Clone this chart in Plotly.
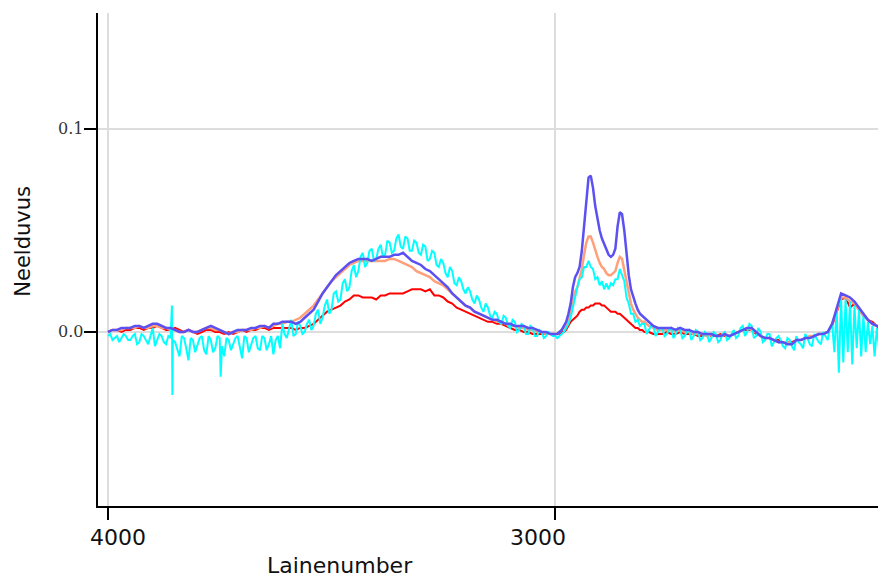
import plotly.graph_objects as go

# Wavenumber grid (cm-1): coarse outside C-H region, finer in C-H region
wn_a = list(range(4000, 3000, -10))   # 4000..3010
wn_b = list(range(3000, 2800, -5))    # 3000..2805
wn_c = list(range(2800, 2255, -10))   # 2800..2260
wn = wn_a + wn_b + wn_c

red_a = [
    0.000, 0.001, 0.001, 0.000, 0.001, 0.001, 0.002, 0.002, 0.001, 0.002,
    0.002, 0.003, 0.002, 0.001, 0.001, 0.002, 0.001, 0.000, 0.001, 0.000,
    -0.001, 0.000, 0.001, 0.001, 0.000, 0.000, -0.001, 0.000, -0.001, 0.000,
    0.001, 0.000, 0.001, 0.001, 0.002, 0.002, 0.001, 0.002, 0.002, 0.002,
    0.002, 0.002, 0.001, 0.002, 0.002, 0.003, 0.004, 0.006, 0.008, 0.010,
    0.011, 0.012, 0.013, 0.015, 0.016, 0.018, 0.018, 0.017, 0.017, 0.017,
    0.016, 0.018, 0.018, 0.019, 0.019, 0.019, 0.019, 0.020, 0.021, 0.021,
    0.021, 0.020, 0.021, 0.018, 0.018, 0.017, 0.015, 0.014, 0.012, 0.011,
    0.010, 0.009, 0.008, 0.007, 0.006, 0.005, 0.005, 0.004, 0.004, 0.003,
    0.002, 0.001, 0.001, 0.000, 0.000, -0.001, -0.001, -0.001, -0.001, -0.001,
]
red_b = [
    -0.001, -0.001, -0.001, 0.000, 0.000, 0.001, 0.003, 0.005, 0.006, 0.007,
    0.008, 0.010, 0.011, 0.011, 0.012, 0.012, 0.013, 0.013, 0.014, 0.014,
    0.014, 0.013, 0.013, 0.012, 0.011, 0.010, 0.010, 0.010, 0.009, 0.009,
    0.008, 0.007, 0.006, 0.005, 0.004, 0.003, 0.002, 0.002, 0.001, 0.001,
]
red_c = [
    0.000, 0.000, -0.001, -0.001, -0.001, 0.000, -0.001, -0.001, 0.000, -0.001,
    -0.001, -0.001, -0.002, -0.002, -0.001, -0.002, -0.002, -0.001, -0.002, -0.002,
    -0.001, 0.000, 0.001, 0.001, 0.001, -0.001, -0.002, -0.003, -0.003, -0.004,
    -0.004, -0.005, -0.005, -0.005, -0.004, -0.004, -0.003, -0.003, -0.002, -0.001,
    -0.001, 0.000, 0.003, 0.010, 0.016, 0.017, 0.012, 0.014, 0.011, 0.008,
    0.006, 0.005, 0.003, 0.002, 0.000,
]

salmon_a = [
    0.000, 0.001, 0.001, 0.001, 0.002, 0.002, 0.002, 0.003, 0.002, 0.002,
    0.003, 0.003, 0.002, 0.002, 0.001, 0.001, 0.000, 0.000, 0.001, 0.000,
    0.000, 0.001, 0.002, 0.002, 0.001, 0.001, 0.000, -0.001, 0.000, 0.000,
    0.001, 0.001, 0.001, 0.002, 0.002, 0.003, 0.002, 0.003, 0.004, 0.004,
    0.005, 0.005, 0.006, 0.007, 0.009, 0.011, 0.013, 0.016, 0.019, 0.022,
    0.025, 0.027, 0.029, 0.031, 0.033, 0.034, 0.035, 0.035, 0.035, 0.035,
    0.035, 0.035, 0.035, 0.036, 0.036, 0.035, 0.034, 0.033, 0.032, 0.030,
    0.029, 0.028, 0.027, 0.025, 0.024, 0.023, 0.021, 0.019, 0.017, 0.015,
    0.013, 0.012, 0.010, 0.009, 0.008, 0.007, 0.006, 0.005, 0.005, 0.004,
    0.003, 0.003, 0.002, 0.002, 0.001, 0.001, 0.000, 0.000, -0.001, -0.001,
]
salmon_b = [
    -0.001, -0.001, 0.000, 0.001, 0.002, 0.003, 0.006, 0.010, 0.016, 0.020,
    0.022, 0.026, 0.031, 0.038, 0.044, 0.047, 0.047, 0.044, 0.040, 0.037,
    0.034, 0.032, 0.031, 0.029, 0.028, 0.028, 0.029, 0.030, 0.034, 0.037,
    0.036, 0.030, 0.024, 0.018, 0.014, 0.011, 0.009, 0.007, 0.006, 0.005,
]
salmon_c = [
    0.005, 0.003, 0.002, 0.001, 0.001, 0.001, 0.001, 0.000, 0.001, 0.000,
    0.000, -0.001, -0.001, -0.001, -0.002, -0.001, -0.002, -0.002, -0.001, -0.002,
    -0.001, 0.000, 0.001, 0.002, 0.001, 0.000, -0.002, -0.003, -0.003, -0.004,
    -0.005, -0.005, -0.005, -0.006, -0.004, -0.004, -0.003, -0.002, -0.002, -0.001,
    -0.001, 0.000, 0.004, 0.011, 0.017, 0.017, 0.015, 0.014, 0.011, 0.008,
    0.006, 0.004, 0.003, 0.001, 0.000,
]

cyan_a = [
    -0.002, -0.004, -0.002, -0.003, -0.002, -0.004, -0.001, -0.005, -0.002, -0.006,
    0.002, -0.004, -0.002, -0.006, -0.003, -0.005, -0.012, -0.003, -0.014, -0.004,
    -0.006, -0.002, -0.011, -0.004, -0.008, -0.003, -0.012, -0.004, -0.006, -0.002,
    -0.013, -0.003, -0.007, -0.002, -0.009, -0.003, -0.006, -0.011, -0.002, 0.004,
    -0.003, 0.006, -0.001, 0.003, 0.000, 0.006, 0.003, 0.011, 0.007, 0.016,
    0.011, 0.020, 0.016, 0.026, 0.022, 0.033, 0.030, 0.039, 0.034, 0.041,
    0.036, 0.043, 0.038, 0.044, 0.040, 0.048, 0.041, 0.046, 0.040, 0.044,
    0.038, 0.042, 0.036, 0.039, 0.032, 0.034, 0.027, 0.030, 0.023, 0.025,
    0.019, 0.020, 0.014, 0.016, 0.010, 0.012, 0.007, 0.009, 0.004, 0.007,
    0.002, 0.005, 0.001, 0.003, -0.001, 0.002, -0.002, 0.000, -0.002, -0.001,
]
cyan_b = [
    -0.002, -0.003, -0.002, -0.001, 0.000, 0.002, 0.004, 0.007, 0.012, 0.018,
    0.022, 0.026, 0.027, 0.032, 0.032, 0.035, 0.032, 0.031, 0.026, 0.027,
    0.023, 0.025, 0.021, 0.024, 0.021, 0.024, 0.023, 0.026, 0.026, 0.031,
    0.028, 0.025, 0.017, 0.014, 0.009, 0.009, 0.005, 0.006, 0.003, 0.004,
]
cyan_c = [
    0.004, 0.001, 0.003, 0.000, 0.002, -0.001, 0.002, -0.001, 0.001, -0.002,
    0.001, -0.002, 0.000, -0.003, -0.001, -0.003, -0.001, -0.004, 0.000, -0.003,
    0.001, -0.002, 0.003, 0.000, 0.003, -0.002, 0.000, -0.004, -0.001, -0.005,
    -0.002, -0.007, -0.003, -0.007, -0.002, -0.006, -0.001, -0.006, -0.001, -0.005,
    0.000, -0.004, 0.004, 0.012, 0.017, 0.016, 0.015, 0.013, 0.011, 0.008,
    0.005, 0.003, 0.002, 0.000, -0.002,
]
# in-between readings of the noisy cyan spectrum (3995..3005 and 2795..2385)
cyan_mid_a_x = list(range(3995, 3000, -10))
cyan_mid_a = [
    -0.001, -0.003, -0.005, -0.001, -0.004, -0.002, -0.006, -0.001, -0.004, -0.002,
    -0.007, -0.001, -0.005, -0.002, -0.004, -0.009, -0.002, -0.008, -0.003, -0.010,
    -0.003, -0.009, -0.002, -0.010, -0.002, -0.007, -0.003, -0.009, -0.003, -0.008,
    -0.002, -0.010, -0.003, -0.008, -0.002, -0.009, -0.002, -0.004, -0.008, -0.001,
    0.001, -0.002, 0.005, -0.001, 0.004, 0.001, 0.009, 0.004, 0.013, 0.009,
    0.019, 0.015, 0.024, 0.020, 0.030, 0.027, 0.037, 0.032, 0.040, 0.035,
    0.041, 0.037, 0.045, 0.039, 0.046, 0.042, 0.047, 0.040, 0.045, 0.039,
    0.043, 0.035, 0.040, 0.033, 0.036, 0.029, 0.032, 0.024, 0.027, 0.021,
    0.022, 0.016, 0.018, 0.012, 0.014, 0.008, 0.010, 0.005, 0.008, 0.003,
    0.006, 0.000, 0.004, -0.001, 0.003, -0.002, 0.001, -0.003, 0.000, -0.002,
]
cyan_mid_c_x = list(range(2795, 2380, -10))
cyan_mid_c = [
    -0.001, 0.003, -0.002, 0.002, -0.002, 0.001, -0.003, 0.002, -0.003, 0.000,
    -0.004, 0.001, -0.004, 0.000, -0.005, 0.000, -0.005, -0.001, -0.004, -0.001,
    -0.003, 0.002, -0.002, 0.004, -0.003, 0.002, -0.005, -0.001, -0.007, -0.003,
    -0.004, -0.008, -0.004, -0.009, -0.005, -0.008, -0.003, -0.007, -0.003, -0.006,
    -0.002, 0.002,
]
# spike readings of the cyan spectrum
cyan_spike_x = [3857, 3856, 3748, 2375, 2365, 2355, 2345, 2335, 2325, 2315,
                2305, 2295, 2285, 2275, 2265]
cyan_spike_y = [0.013, -0.031, -0.022, -0.010, -0.020, -0.015, -0.010, -0.016,
                -0.008, -0.012, -0.010, -0.006, -0.012, -0.008, -0.013]

blue_a = [
    0.000, 0.001, 0.001, 0.002, 0.002, 0.002, 0.003, 0.003, 0.002, 0.003,
    0.004, 0.004, 0.003, 0.002, 0.002, 0.001, 0.000, 0.000, 0.001, 0.000,
    0.000, 0.001, 0.002, 0.003, 0.002, 0.001, 0.000, -0.001, 0.000, 0.001,
    0.001, 0.001, 0.002, 0.002, 0.003, 0.003, 0.002, 0.004, 0.004, 0.005,
    0.005, 0.005, 0.004, 0.005, 0.007, 0.009, 0.011, 0.015, 0.019, 0.022,
    0.025, 0.028, 0.030, 0.032, 0.034, 0.035, 0.036, 0.036, 0.036, 0.035,
    0.036, 0.037, 0.037, 0.037, 0.038, 0.038, 0.039, 0.037, 0.035, 0.034,
    0.033, 0.031, 0.030, 0.028, 0.026, 0.024, 0.022, 0.019, 0.017, 0.015,
    0.013, 0.012, 0.010, 0.009, 0.008, 0.007, 0.006, 0.006, 0.005, 0.004,
    0.004, 0.003, 0.003, 0.003, 0.002, 0.002, 0.001, 0.000, 0.000, -0.001,
]
blue_b = [
    -0.001, -0.001, 0.000, 0.001, 0.003, 0.005, 0.009, 0.014, 0.022, 0.027,
    0.029, 0.032, 0.040, 0.052, 0.065, 0.076, 0.077, 0.071, 0.062, 0.055,
    0.050, 0.046, 0.043, 0.040, 0.038, 0.037, 0.038, 0.041, 0.052, 0.059,
    0.058, 0.050, 0.038, 0.028, 0.021, 0.017, 0.014, 0.011, 0.009, 0.008,
]
blue_c = [
    0.007, 0.005, 0.003, 0.002, 0.002, 0.002, 0.002, 0.001, 0.002, 0.001,
    0.001, 0.000, 0.000, -0.001, -0.001, -0.001, -0.002, -0.002, -0.001, -0.002,
    -0.001, 0.000, 0.001, 0.002, 0.002, 0.000, -0.002, -0.003, -0.003, -0.004,
    -0.005, -0.005, -0.006, -0.006, -0.004, -0.004, -0.003, -0.003, -0.002, -0.001,
    -0.001, 0.000, 0.004, 0.012, 0.019, 0.018, 0.017, 0.015, 0.012, 0.009,
    0.006, 0.004, 0.003, 0.001, -0.001,
]

x_ticks = [4000, 3000]
x_ticktext = ["4000", "3000"]
x_ticklabel_at = [3977, 3039]   # where the reference prints the tick labels
y_ticks = [0.0, 0.1]
y_ticktext = ["0.0", "0.1"]

red = red_a + red_b + red_c
salmon = salmon_a + salmon_b + salmon_c
blue = blue_a + blue_b + blue_c
cyan_pairs = sorted(list(zip(wn, cyan_a + cyan_b + cyan_c)) +
                    list(zip(cyan_mid_a_x, cyan_mid_a)) +
                    list(zip(cyan_mid_c_x, cyan_mid_c)) +
                    list(zip(cyan_spike_x, cyan_spike_y)),
                    key=lambda p: -p[0])
cyan_x = [p[0] for p in cyan_pairs]
cyan_y = [p[1] for p in cyan_pairs]

fig = go.Figure()
fig.add_trace(go.Scatter(x=wn, y=red, mode="lines",
                         line=dict(color="#ff0000", width=2)))
fig.add_trace(go.Scatter(x=wn, y=salmon, mode="lines",
                         line=dict(color="#ffa07a", width=2.5)))
fig.add_trace(go.Scatter(x=cyan_x, y=cyan_y, mode="lines",
                         line=dict(color="#00ffff", width=2)))
fig.add_trace(go.Scatter(x=wn, y=blue, mode="lines",
                         line=dict(color="#5b50f2", width=2.5)))

annotations = [
    dict(text=t, xref="x", yref="paper", x=xp, y=-0.063,
         xanchor="center", yanchor="middle", showarrow=False,
         font=dict(family="DejaVu Sans", size=22, color="#111"))
    for t, xp in zip(x_ticktext, x_ticklabel_at)
]
annotations += [
    dict(text=t, xref="paper", yref="y", x=0, y=yv, xshift=-13,
         xanchor="right", yanchor="middle", showarrow=False,
         font=dict(family="DejaVu Serif", size=16, color="#333"))
    for t, yv in zip(y_ticktext, y_ticks)
]
annotations += [
    dict(text="Lainenumber", xref="paper", yref="paper", x=0.310, y=-0.12,
         xanchor="center", yanchor="middle", showarrow=False,
         font=dict(family="DejaVu Sans", size=22, color="#111")),
    dict(text="Neelduvus", xref="paper", yref="paper", x=-0.0965, y=0.5375,
         xanchor="center", yanchor="middle", showarrow=False, textangle=-90,
         font=dict(family="DejaVu Sans", size=21, color="#111")),
]

fig.update_layout(
    width=870, height=570,
    margin=dict(l=90, r=0, t=5, b=72),
    paper_bgcolor="white", plot_bgcolor="white",
    showlegend=False,
    xaxis=dict(
        range=[4022.4, 2277.4], tickvals=x_ticks, showticklabels=False,
        showline=True, linecolor="black", linewidth=2,
        ticks="outside", ticklen=12, tickwidth=2, tickcolor="black",
        showgrid=True, gridcolor="#dddddd", gridwidth=2, zeroline=False,
    ),
    yaxis=dict(
        range=[-0.0857, 0.1571], tickvals=y_ticks, showticklabels=False,
        showline=True, linecolor="black", linewidth=2,
        ticks="outside", ticklen=12, tickwidth=2, tickcolor="black",
        showgrid=True, gridcolor="#dddddd", gridwidth=2, zeroline=False,
    ),
    annotations=annotations,
)

fig.write_html("out.html")
